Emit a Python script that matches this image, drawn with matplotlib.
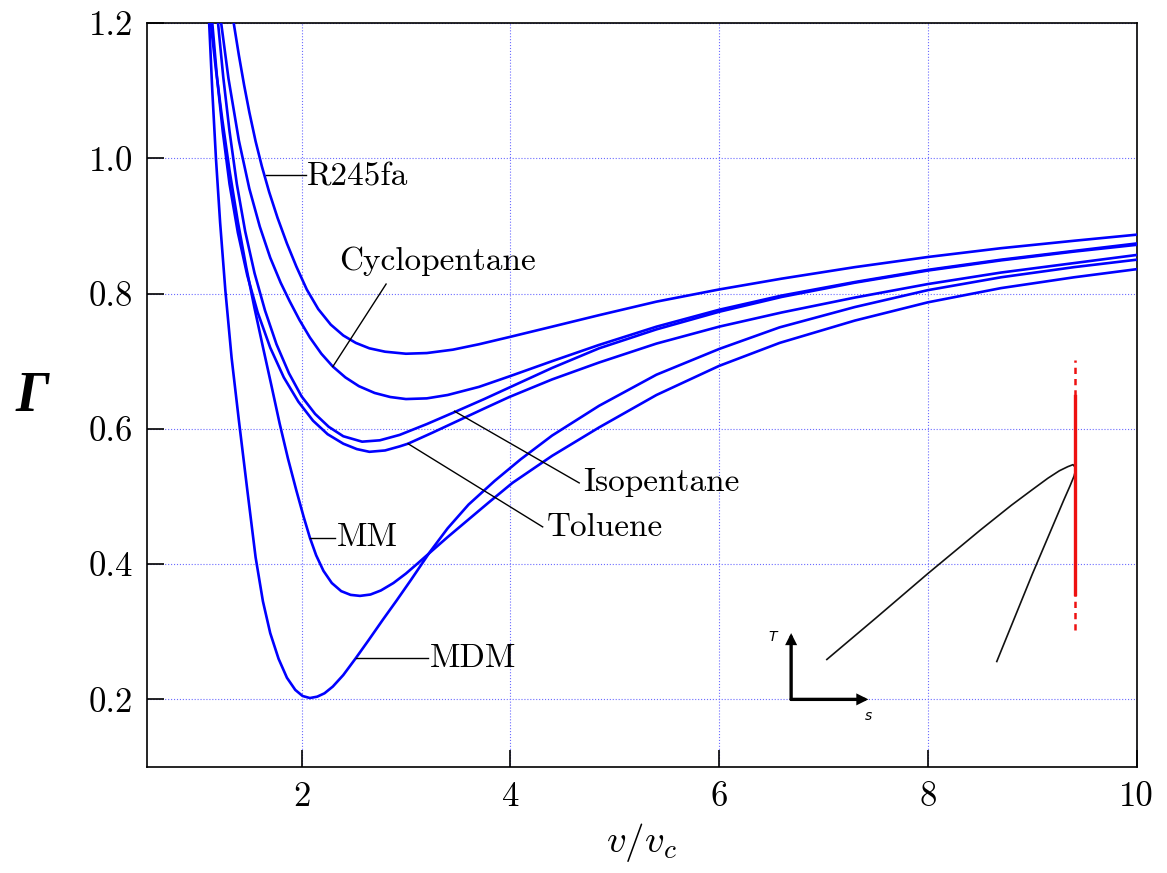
import matplotlib
matplotlib.use("Agg")
import matplotlib.pyplot as plt

plt.rcParams['font.family'] = 'serif'
plt.rcParams['font.serif'] = ['cmr10', 'DejaVu Serif']
plt.rcParams['mathtext.fontset'] = 'cm'
plt.rcParams['axes.formatter.use_mathtext'] = True

# ---------------- data ----------------
r245fa_x = [1.35, 1.40, 1.45, 1.50, 1.56, 1.62, 1.69, 1.77, 1.86, 1.95, 2.05, 2.16, 2.28, 2.40, 2.52, 2.65, 2.80, 3.00, 3.20, 3.45, 3.70, 4.00, 4.40, 4.85, 5.40, 6.00, 6.60, 7.30, 8.00, 8.70, 9.40, 10.0]
r245fa_y = [1.200, 1.152, 1.108, 1.068, 1.025, 0.988, 0.950, 0.912, 0.874, 0.840, 0.806, 0.777, 0.754, 0.738, 0.727, 0.719, 0.714, 0.711, 0.712, 0.717, 0.725, 0.736, 0.751, 0.768, 0.788, 0.806, 0.822, 0.839, 0.854, 0.867, 0.878, 0.887]

cyclo_x = [1.23, 1.30, 1.40, 1.50, 1.60, 1.70, 1.80, 1.885, 1.98, 2.08, 2.19, 2.30, 2.42, 2.55, 2.70, 2.85, 3.00, 3.20, 3.40, 3.70, 4.00, 4.40, 4.85, 5.40, 6.00, 6.60, 7.30, 8.00, 8.70, 9.40, 10.0]
cyclo_y = [1.200, 1.118, 1.026, 0.955, 0.899, 0.853, 0.816, 0.789, 0.761, 0.735, 0.711, 0.692, 0.676, 0.663, 0.653, 0.647, 0.644, 0.645, 0.650, 0.662, 0.678, 0.700, 0.724, 0.751, 0.776, 0.797, 0.817, 0.835, 0.850, 0.863, 0.874]

iso_x = [1.20, 1.25, 1.31, 1.38, 1.46, 1.55, 1.65, 1.76, 1.88, 2.00, 2.13, 2.26, 2.40, 2.58, 2.75, 2.94, 3.20, 3.47, 3.75, 3.99, 4.40, 4.85, 5.40, 6.00, 6.60, 7.30, 8.00, 8.70, 9.40, 10.0]
iso_y = [1.200, 1.120, 1.040, 0.962, 0.892, 0.830, 0.775, 0.725, 0.682, 0.648, 0.622, 0.603, 0.589, 0.581, 0.583, 0.591, 0.607, 0.625, 0.644, 0.661, 0.690, 0.719, 0.747, 0.773, 0.795, 0.816, 0.834, 0.849, 0.862, 0.872]

tol_x = [1.145, 1.19, 1.245, 1.31, 1.39, 1.48, 1.58, 1.70, 1.83, 1.97, 2.11, 2.25, 2.40, 2.53, 2.65, 2.80, 2.94, 3.02, 3.25, 3.50, 3.75, 3.99, 4.40, 4.85, 5.40, 6.00, 6.60, 7.30, 8.00, 8.70, 9.40, 10.0]
tol_y = [1.200, 1.120, 1.040, 0.962, 0.890, 0.827, 0.772, 0.720, 0.676, 0.640, 0.612, 0.592, 0.578, 0.570, 0.566, 0.568, 0.574, 0.578, 0.594, 0.612, 0.630, 0.647, 0.673, 0.698, 0.726, 0.751, 0.772, 0.794, 0.814, 0.831, 0.845, 0.857]

mm_x = [1.13, 1.18, 1.24, 1.31, 1.39, 1.47, 1.55, 1.63, 1.71, 1.79, 1.87, 1.95, 2.02, 2.08, 2.14, 2.21, 2.29, 2.38, 2.47, 2.56, 2.66, 2.76, 2.88, 3.00, 3.12, 3.23, 3.40, 3.60, 3.80, 4.02, 4.40, 4.85, 5.40, 6.00, 6.58, 7.30, 8.00, 8.70, 9.40, 10.0]
mm_y = [1.200, 1.131, 1.058, 0.982, 0.906, 0.839, 0.778, 0.721, 0.665, 0.608, 0.556, 0.509, 0.470, 0.439, 0.413, 0.390, 0.372, 0.360, 0.3545, 0.353, 0.355, 0.361, 0.372, 0.386, 0.402, 0.417, 0.440, 0.466, 0.492, 0.520, 0.560, 0.602, 0.650, 0.693, 0.727, 0.760, 0.787, 0.808, 0.824, 0.836]

mdm_x = [1.115, 1.145, 1.18, 1.22, 1.27, 1.33, 1.40, 1.48, 1.56, 1.63, 1.70, 1.78, 1.86, 1.94, 2.01, 2.08, 2.15, 2.22, 2.30, 2.40, 2.52, 2.64, 2.78, 2.91, 3.05, 3.23, 3.40, 3.60, 3.85, 4.10, 4.40, 4.85, 5.40, 6.00, 6.58, 7.30, 8.00, 8.70, 9.40, 10.0]
mdm_y = [1.200, 1.100, 1.000, 0.905, 0.805, 0.705, 0.612, 0.510, 0.410, 0.345, 0.298, 0.260, 0.232, 0.214, 0.205, 0.202, 0.204, 0.209, 0.219, 0.236, 0.261, 0.287, 0.318, 0.346, 0.377, 0.418, 0.453, 0.488, 0.523, 0.555, 0.590, 0.634, 0.680, 0.718, 0.750, 0.780, 0.805, 0.824, 0.839, 0.850]

# labels: text, text anchor (x, y), leader line start (on curve) and end
labels = ["R245fa", "Cyclopentane", "Isopentane", "Toluene", "MM", "MDM"]
label_text_xy = [(2.05, 0.973), (3.30, 0.848), (4.70, 0.520), (4.35, 0.454), (2.34, 0.439), (3.23, 0.260)]
label_text_ha = ["left", "center", "left", "left", "left", "left"]
leader_start = [(1.655, 0.975), (2.30, 0.692), (3.465, 0.626), (3.02, 0.578), (2.08, 0.439), (2.52, 0.261)]
leader_end = [(2.04, 0.975), (2.81, 0.814), (4.66, 0.520), (4.31, 0.455), (2.32, 0.439), (3.21, 0.261)]

# T-s inset sketch
dome_x = [7.032, 7.50, 8.00, 8.50, 8.80, 9.00, 9.15, 9.26, 9.34, 9.39, 9.413, 9.410, 9.40, 9.36, 9.30, 9.00, 8.66]
dome_y = [0.259, 0.320, 0.386, 0.450, 0.487, 0.510, 0.527, 0.538, 0.544, 0.547, 0.543, 0.536, 0.530, 0.515, 0.494, 0.385, 0.256]
iso_line_x = 9.414
iso_solid_y = (0.356, 0.649)
iso_dash_y = [(0.649, 0.702), (0.303, 0.356)]
ts_origin = (6.69, 0.200)
ts_T_tip = (6.69, 0.298)
ts_s_tip = (7.43, 0.200)

xticks = [2, 4, 6, 8, 10]
yticks = [0.2, 0.4, 0.6, 0.8, 1.0, 1.2]
xticklabels = ["2", "4", "6", "8", "10"]
yticklabels = ["0.2", "0.4", "0.6", "0.8", "1.0", "1.2"]

# ---------------- figure ----------------
fig = plt.figure(figsize=(11.67, 8.73), dpi=100)
ax = fig.add_axes([0.126, 0.1214, 0.848, 0.8523])

curve_color = '#0000ff'
for xs, ys in [(r245fa_x, r245fa_y), (cyclo_x, cyclo_y), (iso_x, iso_y),
               (tol_x, tol_y), (mm_x, mm_y), (mdm_x, mdm_y)]:
    ax.plot(xs, ys, color=curve_color, lw=1.9, solid_joinstyle='round', zorder=3)

for lab, txy, ha, s, e in zip(labels, label_text_xy, label_text_ha, leader_start, leader_end):
    ax.plot([s[0], e[0]], [s[1], e[1]], color='black', lw=1.0, zorder=4)
    ax.text(txy[0], txy[1], lab, ha=ha, va='center', fontsize=24, zorder=5)

# inset sketch
ax.plot(dome_x, dome_y, color='#111111', lw=1.2, solid_joinstyle='round', zorder=4)
ax.plot([iso_line_x, iso_line_x], iso_solid_y, color='#ee1111', lw=2.4, zorder=4)
for seg in iso_dash_y:
    ax.plot([iso_line_x, iso_line_x], seg, color='#ee1111', lw=1.8, ls=(0, (2.5, 2.0)), zorder=4)
for tip in (ts_T_tip, ts_s_tip):
    ax.annotate('', xy=tip, xytext=ts_origin,
                arrowprops=dict(arrowstyle='-|>', lw=2.4, color='black', mutation_scale=12,
                                shrinkA=0, shrinkB=0, joinstyle='miter'))
ax.text(ts_T_tip[0] - 0.18, ts_T_tip[1] - 0.006, 'T', family='DejaVu Sans', style='italic', fontsize=10, ha='center', va='center')
ax.text(ts_s_tip[0], ts_s_tip[1] - 0.024, 's', family='DejaVu Sans', style='italic', fontsize=10, ha='center', va='center')

ax.set_xlim(0.52, 10.0)
ax.set_ylim(0.10, 1.20)
ax.set_xticks(xticks)
ax.set_xticklabels(xticklabels)
ax.set_yticks(yticks)
ax.set_yticklabels(yticklabels)
ax.tick_params(direction='in', length=12, width=1.2, labelsize=25, top=False, right=False, pad=10)
ax.grid(True, color='#6b6bff', ls=':', lw=0.8)
ax.set_axisbelow(True)
for sp in ax.spines.values():
    sp.set_linewidth(1.2)

ax.set_xlabel(r'$v/v_c$', fontsize=28, labelpad=6)
ax.set_ylabel('\u0393', family='Liberation Serif', fontweight='bold', fontstyle='italic',
              fontsize=40, rotation=0, ha='center', va='center')
ax.yaxis.set_label_coords(-0.116, 0.497)

fig.savefig('out.png', dpi=100)
